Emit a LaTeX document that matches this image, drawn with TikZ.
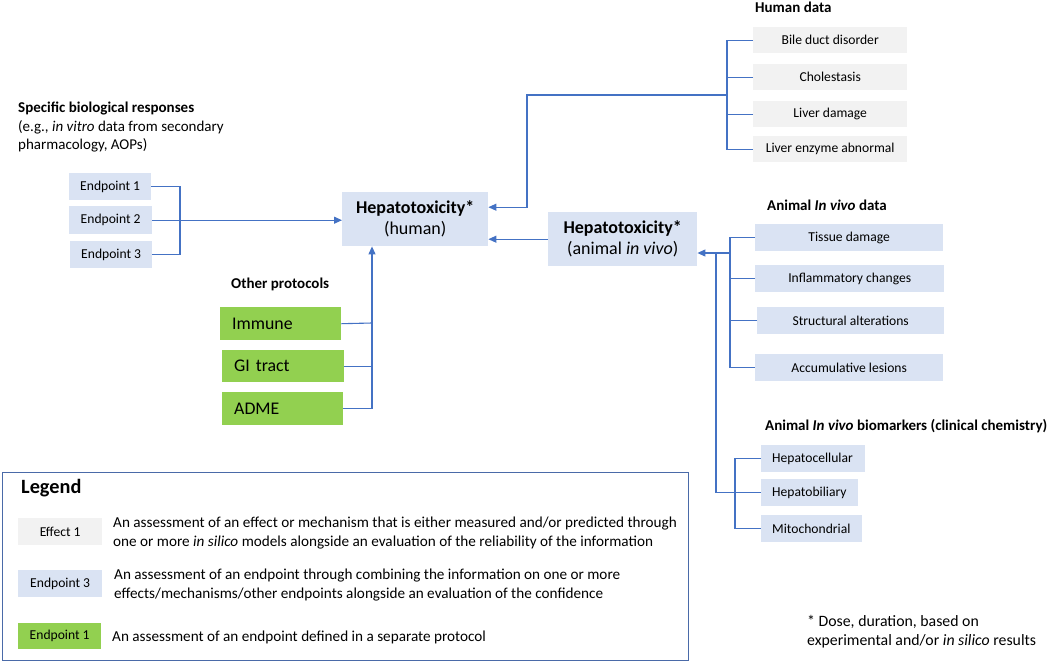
\documentclass[tikz,border=0pt]{standalone}
\usepackage{fontspec}
\setmainfont{Carlito}
\usetikzlibrary{arrows.meta}
\definecolor{bluebox}{HTML}{DAE3F3}
\definecolor{graybox}{HTML}{F2F2F2}
\definecolor{greenbox}{HTML}{92D050}
\definecolor{lineblue}{HTML}{4472C4}
\definecolor{legendline}{HTML}{4A6AA8}
\tikzset{
  box/.style={rectangle, inner sep=0pt, anchor=north west, font=\fontsize{13.6}{16}\selectfont},
  bbox/.style={box, fill=bluebox},
  gbox/.style={box, fill=graybox},
  grbox/.style={box, fill=greenbox, font=\fontsize{17.8}{20}\selectfont, text width=#1, align=left},
  hbox/.style={box, fill=bluebox, align=center, font=\fontsize{18}{22}\selectfont},
  title/.style={inner sep=0pt, anchor=base west, font=\fontsize{15}{18}\bfseries\selectfont},
  txt/.style={inner sep=0pt, anchor=base west, font=\fontsize{15}{18}\selectfont},
  ltxt/.style={inner sep=0pt, anchor=base west, font=\fontsize{15.2}{18}\selectfont},
  ftxt/.style={inner sep=0pt, anchor=base west, font=\fontsize{15.8}{18}\selectfont},
  conn/.style={draw=lineblue, line width=1.1pt},
  arr/.style={conn, -{Triangle[length=8pt,width=7pt]}},
}
\begin{document}
\begin{tikzpicture}[x=1pt,y=-1pt]
\useasboundingbox (0,0) rectangle (1050,662);

% Specific biological responses
\node[title] (t1) at (18,112) {Specific biological responses};
\node[txt] (t1b) at (18,131) {(e.g., \textit{in vitro} data from secondary};
\node[txt] (t1c) at (18,149) {pharmacology, AOPs)};
\node[bbox, minimum width=82pt, minimum height=27pt] (e1) at (69,173) {Endpoint 1};
\node[bbox, minimum width=83pt, minimum height=28pt] (e2) at (69,206) {Endpoint 2};
\node[bbox, minimum width=82pt, minimum height=27pt] (e3) at (70,241) {Endpoint 3};
\coordinate (j1) at (180,220);

% Hepatotoxicity boxes
\node[hbox, minimum width=146pt, minimum height=54pt] (hh) at (342,192) {\textbf{Hepatotoxicity*}\\[-1pt](human)};
\node[hbox, minimum width=149pt, minimum height=54pt] (ha) at (548,212) {\textbf{Hepatotoxicity*}\\[-1pt](animal \textit{in vivo})};

\draw[conn] (e1.east) -| (j1) |- (e3.east);
\draw[arr] (e2.east) -- (e2.east -| hh.west);
\draw[arr] (ha.west) -- (ha.west -| hh.east);

% Human data
\node[title] (t2) at (755,12) {Human data};
\node[gbox, minimum width=154pt, minimum height=26pt] (bile) at (753,27) {Bile duct disorder};
\node[gbox, minimum width=154pt, minimum height=26pt] (chol) at (753,64) {Cholestasis};
\node[gbox, minimum width=154pt, minimum height=26pt] (ldam) at (753,101) {Liver damage};
\node[gbox, minimum width=154pt, minimum height=26pt] (lenz) at (753,136) {Liver enzyme abnormal};
\coordinate (hj) at (727,95);
\coordinate (hk) at (527,95);
\draw[conn] (bile.west) -| (hj) |- (lenz.west);
\draw[conn] (chol.west) -- (chol.west -| hj);
\draw[conn] (ldam.west) -- (ldam.west -| hj);
\draw[arr] (hj) -- (hk) |- ([yshift=12pt]hh.east);

% Animal in vivo data
\node[title] (t3) at (767,210) {Animal \textit{In vivo} data};
\node[bbox, minimum width=188pt, minimum height=27pt] (tis) at (755,224) {Tissue damage};
\node[bbox, minimum width=189pt, minimum height=27pt] (inf) at (755,265) {Inflammatory changes};
\node[bbox, minimum width=187pt, minimum height=27pt] (str) at (757,307) {Structural alterations};
\node[bbox, minimum width=188pt, minimum height=27pt] (acc) at (755,354) {Accumulative lesions};
\coordinate (aj) at (730,253);
\coordinate (bj) at (716,253);
\draw[conn] (tis.west) -| (aj |- acc.west) -- (acc.west);
\draw[conn] (inf.west) -- (inf.west -| aj);
\draw[conn] (str.west) -- (str.west -| aj);
\draw[arr] (aj) -- (aj -| ha.east);

% Biomarkers
\node[title] (t4) at (765,430) {Animal \textit{In vivo} biomarkers (clinical chemistry)};
\node[bbox, minimum width=104pt, minimum height=27pt, text width=82pt, align=left] (hcel) at (761,445) {Hepatocellular};
\node[bbox, minimum width=97pt, minimum height=27pt, text width=75pt, align=left] (hbil) at (761,479) {Hepatobiliary};
\node[bbox, minimum width=101pt, minimum height=27pt, text width=79pt, align=left] (mito) at (761,515) {Mitochondrial};
\coordinate (cj) at (735,493);
\draw[conn] (bj) |- (hbil.west);
\draw[conn] (hcel.west) -| (cj) |- (mito.west);

% Other protocols
\node[title] (t5) at (231,288) {Other protocols};
\node[grbox=97pt, minimum width=121pt, minimum height=33pt] (imm) at (220,307) {Immune};
\node[grbox=98pt, minimum width=122pt, minimum height=32pt] (gi) at (222,350) {GI tract};
\node[grbox=97pt, minimum width=121pt, minimum height=33pt] (adme) at (222,392) {ADME};
\coordinate (oj) at (372,323);
\draw[conn] (imm.east) -- (oj);
\draw[arr] (oj) -- (oj |- hh.south);
\draw[conn] (gi.east) -- (gi.east -| oj);
\draw[conn] (oj) |- (adme.east);

% Legend
\node[draw=legendline, line width=1.3pt, rectangle, inner sep=0pt, anchor=north west, minimum width=686pt, minimum height=188pt] (leg) at (2,472) {};
\node[inner sep=0pt, anchor=base west, font=\fontsize{20.3}{24}\bfseries\selectfont] (lt) at (21,493) {Legend};
\node[gbox, minimum width=84pt, minimum height=27pt] (l1) at (18,518) {Effect 1};
\node[bbox, minimum width=84pt, minimum height=27pt] (l2) at (18,570) {Endpoint 3};
\node[box, fill=greenbox, minimum width=83pt, minimum height=26pt] (l3) at (18,623) {Endpoint 1};
\node[ltxt] (d1a) at (113,527) {An assessment of an effect or mechanism that is either measured and/or predicted through};
\node[ltxt] (d1b) at (113,546) {one or more \textit{in silico} models alongside an evaluation of the reliability of the information};
\node[ltxt] (d2a) at (114,579) {An assessment of an endpoint through combining the information on one or more};
\node[ltxt] (d2b) at (114,598) {effects/mechanisms/other endpoints alongside an evaluation of the confidence};
\node[ltxt] (d3) at (112,641) {An assessment of an endpoint defined in a separate protocol};

% Footnote
\node[ftxt] (f1) at (807,626) {* Dose, duration, based on};
\node[ftxt] (f2) at (807,645) {experimental and/or \textit{in silico} results};
\end{tikzpicture}
\end{document}
